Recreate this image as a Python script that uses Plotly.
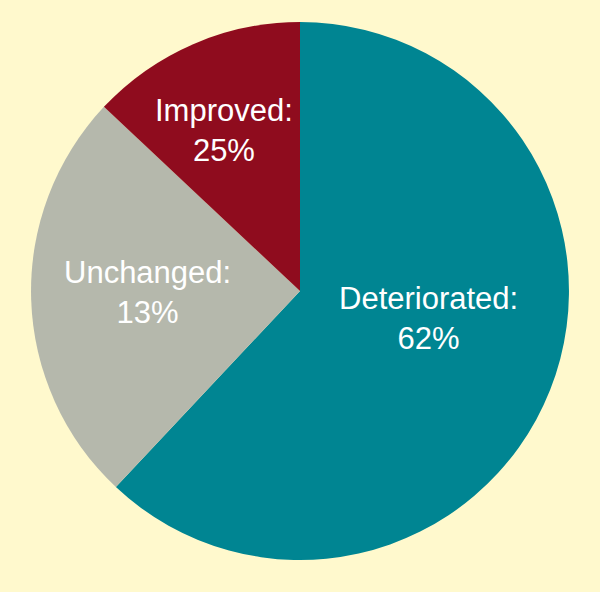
import plotly.graph_objects as go

categories = ["Deteriorated", "Unchanged", "Improved"]
slice_values = [62, 25, 13]
label_percents = ["62%", "13%", "25%"]
colors = ["#008592", "#B5B8AC", "#8F0C1E"]

fig = go.Figure(go.Pie(
    labels=categories,
    values=slice_values,
    sort=False,
    direction="clockwise",
    rotation=0,
    marker=dict(colors=colors, line=dict(width=0)),
    textinfo="none",
    hoverinfo="label+percent",
    domain=dict(x=[0, 1], y=[0.0541, 0.9628]),
    showlegend=False,
))

label_pos = {"Deteriorated": (428, 318), "Unchanged": (147, 292), "Improved": (224, 130)}
for cat, pct in zip(categories, label_percents):
    px, py = label_pos[cat]
    fig.add_annotation(
        x=px / 600, y=1 - py / 592, xref="paper", yref="paper",
        text=f"{cat}:<br>{pct}", showarrow=False,
        font=dict(family="Liberation Sans, Arial, sans-serif", size=31, color="white"),
        xanchor="center", yanchor="middle", align="center",
    )

fig.update_layout(
    width=600, height=592,
    margin=dict(l=0, r=0, t=0, b=0),
    paper_bgcolor="#FFF9CD",
    plot_bgcolor="#FFF9CD",
)
fig.write_html("out.html", config={"displayModeBar": False},
               post_script="document.body.style.margin='0';")
